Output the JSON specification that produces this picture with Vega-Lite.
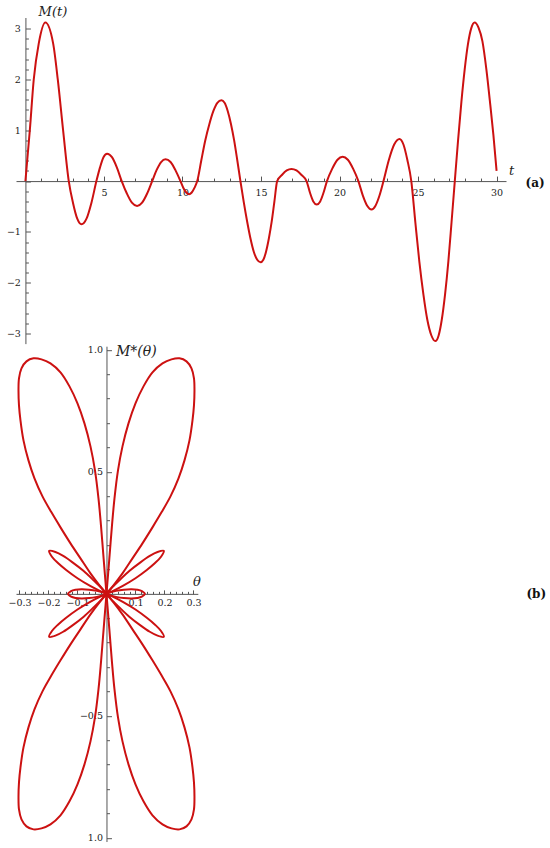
{
  "$schema": "https://vega.github.io/schema/vega-lite/v6.json",
  "background": "white",
  "padding": {"left": 6, "top": 5.5, "right": 0, "bottom": 0},
  "bounds": "flush",
  "spacing": 1.7,
  "config": {
    "view": {"stroke": null},
    "axis": {
      "grid": false,
      "domainColor": "#555555",
      "tickColor": "#555555",
      "domainWidth": 1,
      "tickWidth": 1,
      "labelColor": "#222222",
      "labelFont": "DejaVu Serif",
      "labelFontSize": 9.5,
      "labelFlush": false,
      "labelOverlap": false,
      "titleFont": "DejaVu Serif",
      "titleFontStyle": "italic",
      "titleFontWeight": "normal",
      "titleFontSize": 13,
      "titleColor": "#222222",
      "titleAngle": 0,
      "titleAlign": "center",
      "titleBaseline": "middle"
    }
  },
  "datasets": {
    "ts": [
      {"t": 0, "m": 0}, {"t": 0.28, "m": 1.0}, {"t": 0.53, "m": 2.0}, {"t": 0.85, "m": 2.71}, {"t": 1.27, "m": 3.12},
      {"t": 1.77, "m": 2.7}, {"t": 2.06, "m": 2.0}, {"t": 2.4, "m": 1.0}, {"t": 2.76, "m": 0},
      {"t": 3.03, "m": -0.43}, {"t": 3.3, "m": -0.74}, {"t": 3.57, "m": -0.85}, {"t": 3.89, "m": -0.74}, {"t": 4.2, "m": -0.43}, {"t": 4.52, "m": 0},
      {"t": 4.75, "m": 0.27}, {"t": 4.97, "m": 0.47}, {"t": 5.2, "m": 0.54}, {"t": 5.51, "m": 0.47}, {"t": 5.82, "m": 0.27}, {"t": 6.13, "m": 0},
      {"t": 6.46, "m": -0.245}, {"t": 6.78, "m": -0.425}, {"t": 7.11, "m": -0.49}, {"t": 7.43, "m": -0.425}, {"t": 7.75, "m": -0.245}, {"t": 8.07, "m": 0},
      {"t": 8.35, "m": 0.215}, {"t": 8.64, "m": 0.375}, {"t": 8.92, "m": 0.43}, {"t": 9.24, "m": 0.375}, {"t": 9.55, "m": 0.215}, {"t": 9.87, "m": 0},
      {"t": 10.05, "m": -0.13}, {"t": 10.24, "m": -0.225}, {"t": 10.42, "m": -0.26}, {"t": 10.59, "m": -0.225}, {"t": 10.77, "m": -0.13}, {"t": 10.94, "m": 0},
      {"t": 11.2, "m": 0.41}, {"t": 11.45, "m": 0.8}, {"t": 11.71, "m": 1.12}, {"t": 11.97, "m": 1.38}, {"t": 12.22, "m": 1.54}, {"t": 12.48, "m": 1.59},
      {"t": 12.68, "m": 1.54}, {"t": 12.88, "m": 1.38}, {"t": 13.09, "m": 1.12}, {"t": 13.29, "m": 0.8}, {"t": 13.49, "m": 0.41}, {"t": 13.69, "m": 0},
      {"t": 13.9, "m": -0.41}, {"t": 14.12, "m": -0.8}, {"t": 14.33, "m": -1.13}, {"t": 14.54, "m": -1.39}, {"t": 14.76, "m": -1.55}, {"t": 14.97, "m": -1.6},
      {"t": 15.15, "m": -1.55}, {"t": 15.32, "m": -1.39}, {"t": 15.5, "m": -1.13}, {"t": 15.68, "m": -0.8}, {"t": 15.85, "m": -0.41}, {"t": 16.03, "m": 0},
      {"t": 16.33, "m": 0.12}, {"t": 16.64, "m": 0.21}, {"t": 16.94, "m": 0.24}, {"t": 17.26, "m": 0.21}, {"t": 17.58, "m": 0.12}, {"t": 17.9, "m": 0},
      {"t": 18.12, "m": -0.23}, {"t": 18.33, "m": -0.4}, {"t": 18.55, "m": -0.46}, {"t": 18.77, "m": -0.4}, {"t": 18.98, "m": -0.23}, {"t": 19.2, "m": 0},
      {"t": 19.53, "m": 0.24}, {"t": 19.87, "m": 0.42}, {"t": 20.2, "m": 0.48}, {"t": 20.53, "m": 0.42}, {"t": 20.87, "m": 0.24}, {"t": 21.2, "m": 0},
      {"t": 21.48, "m": -0.28}, {"t": 21.76, "m": -0.485}, {"t": 22.04, "m": -0.56}, {"t": 22.29, "m": -0.485}, {"t": 22.55, "m": -0.28}, {"t": 22.8, "m": 0},
      {"t": 23.14, "m": 0.415}, {"t": 23.48, "m": 0.72}, {"t": 23.82, "m": 0.83}, {"t": 24.07, "m": 0.72}, {"t": 24.32, "m": 0.415}, {"t": 24.57, "m": 0},
      {"t": 24.83, "m": -0.82}, {"t": 25.08, "m": -1.58}, {"t": 25.34, "m": -2.23}, {"t": 25.59, "m": -2.73}, {"t": 25.85, "m": -3.04}, {"t": 26.1, "m": -3.15},
      {"t": 26.31, "m": -3.04}, {"t": 26.51, "m": -2.73}, {"t": 26.72, "m": -2.23}, {"t": 26.93, "m": -1.58}, {"t": 27.13, "m": -0.82}, {"t": 27.34, "m": 0},
      {"t": 27.55, "m": 0.81}, {"t": 27.76, "m": 1.56}, {"t": 27.97, "m": 2.2}, {"t": 28.18, "m": 2.7}, {"t": 28.39, "m": 3.01}, {"t": 28.6, "m": 3.12},
      {"t": 28.85, "m": 3.02}, {"t": 29.1, "m": 2.75}, {"t": 29.35, "m": 2.2}, {"t": 29.6, "m": 1.5}, {"t": 29.8, "m": 0.9}, {"t": 30, "m": 0.2}
    ],
    "polar": [
      {"g": "b1", "i": 0, "x": 0, "y": 0}, {"g": "b1", "i": 1, "x": -0.0052, "y": 0.0758}, {"g": "b1", "i": 2, "x": -0.0121, "y": 0.1783},
      {"g": "b1", "i": 3, "x": -0.019, "y": 0.2807}, {"g": "b1", "i": 4, "x": -0.0276, "y": 0.3914}, {"g": "b1", "i": 5, "x": -0.0397, "y": 0.5061},
      {"g": "b1", "i": 6, "x": -0.0552, "y": 0.6045}, {"g": "b1", "i": 7, "x": -0.0759, "y": 0.6988}, {"g": "b1", "i": 8, "x": -0.1, "y": 0.7807},
      {"g": "b1", "i": 9, "x": -0.1276, "y": 0.8504}, {"g": "b1", "i": 10, "x": -0.1586, "y": 0.9078}, {"g": "b1", "i": 11, "x": -0.1931, "y": 0.9447},
      {"g": "b1", "i": 12, "x": -0.2241, "y": 0.9611}, {"g": "b1", "i": 13, "x": -0.2517, "y": 0.9652}, {"g": "b1", "i": 14, "x": -0.2759, "y": 0.9529},
      {"g": "b1", "i": 15, "x": -0.2931, "y": 0.9242}, {"g": "b1", "i": 16, "x": -0.3017, "y": 0.8832}, {"g": "b1", "i": 17, "x": -0.3034, "y": 0.834},
      {"g": "b1", "i": 18, "x": -0.3017, "y": 0.7725}, {"g": "b1", "i": 19, "x": -0.2966, "y": 0.7111}, {"g": "b1", "i": 20, "x": -0.2862, "y": 0.6291},
      {"g": "b1", "i": 21, "x": -0.269, "y": 0.5471}, {"g": "b1", "i": 22, "x": -0.2483, "y": 0.4734}, {"g": "b1", "i": 23, "x": -0.2207, "y": 0.3996},
      {"g": "b1", "i": 24, "x": -0.1897, "y": 0.334}, {"g": "b1", "i": 25, "x": -0.1586, "y": 0.2725}, {"g": "b1", "i": 26, "x": -0.1241, "y": 0.207},
      {"g": "b1", "i": 27, "x": -0.0897, "y": 0.1455}, {"g": "b1", "i": 28, "x": -0.0552, "y": 0.084}, {"g": "b1", "i": 29, "x": -0.0241, "y": 0.0348},
      {"g": "b1", "i": 30, "x": 0, "y": 0},

      {"g": "b2", "i": 0, "x": 0, "y": 0}, {"g": "b2", "i": 1, "x": 0.0052, "y": 0.0758}, {"g": "b2", "i": 2, "x": 0.0121, "y": 0.1783},
      {"g": "b2", "i": 3, "x": 0.019, "y": 0.2807}, {"g": "b2", "i": 4, "x": 0.0276, "y": 0.3914}, {"g": "b2", "i": 5, "x": 0.0397, "y": 0.5061},
      {"g": "b2", "i": 6, "x": 0.0552, "y": 0.6045}, {"g": "b2", "i": 7, "x": 0.0759, "y": 0.6988}, {"g": "b2", "i": 8, "x": 0.1, "y": 0.7807},
      {"g": "b2", "i": 9, "x": 0.1276, "y": 0.8504}, {"g": "b2", "i": 10, "x": 0.1586, "y": 0.9078}, {"g": "b2", "i": 11, "x": 0.1931, "y": 0.9447},
      {"g": "b2", "i": 12, "x": 0.2241, "y": 0.9611}, {"g": "b2", "i": 13, "x": 0.2517, "y": 0.9652}, {"g": "b2", "i": 14, "x": 0.2759, "y": 0.9529},
      {"g": "b2", "i": 15, "x": 0.2931, "y": 0.9242}, {"g": "b2", "i": 16, "x": 0.3017, "y": 0.8832}, {"g": "b2", "i": 17, "x": 0.3034, "y": 0.834},
      {"g": "b2", "i": 18, "x": 0.3017, "y": 0.7725}, {"g": "b2", "i": 19, "x": 0.2966, "y": 0.7111}, {"g": "b2", "i": 20, "x": 0.2862, "y": 0.6291},
      {"g": "b2", "i": 21, "x": 0.269, "y": 0.5471}, {"g": "b2", "i": 22, "x": 0.2483, "y": 0.4734}, {"g": "b2", "i": 23, "x": 0.2207, "y": 0.3996},
      {"g": "b2", "i": 24, "x": 0.1897, "y": 0.334}, {"g": "b2", "i": 25, "x": 0.1586, "y": 0.2725}, {"g": "b2", "i": 26, "x": 0.1241, "y": 0.207},
      {"g": "b2", "i": 27, "x": 0.0897, "y": 0.1455}, {"g": "b2", "i": 28, "x": 0.0552, "y": 0.084}, {"g": "b2", "i": 29, "x": 0.0241, "y": 0.0348},
      {"g": "b2", "i": 30, "x": 0, "y": 0},

      {"g": "b3", "i": 0, "x": 0, "y": 0}, {"g": "b3", "i": 1, "x": -0.0052, "y": -0.0758}, {"g": "b3", "i": 2, "x": -0.0121, "y": -0.1783},
      {"g": "b3", "i": 3, "x": -0.019, "y": -0.2807}, {"g": "b3", "i": 4, "x": -0.0276, "y": -0.3914}, {"g": "b3", "i": 5, "x": -0.0397, "y": -0.5061},
      {"g": "b3", "i": 6, "x": -0.0552, "y": -0.6045}, {"g": "b3", "i": 7, "x": -0.0759, "y": -0.6988}, {"g": "b3", "i": 8, "x": -0.1, "y": -0.7807},
      {"g": "b3", "i": 9, "x": -0.1276, "y": -0.8504}, {"g": "b3", "i": 10, "x": -0.1586, "y": -0.9078}, {"g": "b3", "i": 11, "x": -0.1931, "y": -0.9447},
      {"g": "b3", "i": 12, "x": -0.2241, "y": -0.9611}, {"g": "b3", "i": 13, "x": -0.2517, "y": -0.9652}, {"g": "b3", "i": 14, "x": -0.2759, "y": -0.9529},
      {"g": "b3", "i": 15, "x": -0.2931, "y": -0.9242}, {"g": "b3", "i": 16, "x": -0.3017, "y": -0.8832}, {"g": "b3", "i": 17, "x": -0.3034, "y": -0.834},
      {"g": "b3", "i": 18, "x": -0.3017, "y": -0.7725}, {"g": "b3", "i": 19, "x": -0.2966, "y": -0.7111}, {"g": "b3", "i": 20, "x": -0.2862, "y": -0.6291},
      {"g": "b3", "i": 21, "x": -0.269, "y": -0.5471}, {"g": "b3", "i": 22, "x": -0.2483, "y": -0.4734}, {"g": "b3", "i": 23, "x": -0.2207, "y": -0.3996},
      {"g": "b3", "i": 24, "x": -0.1897, "y": -0.334}, {"g": "b3", "i": 25, "x": -0.1586, "y": -0.2725}, {"g": "b3", "i": 26, "x": -0.1241, "y": -0.207},
      {"g": "b3", "i": 27, "x": -0.0897, "y": -0.1455}, {"g": "b3", "i": 28, "x": -0.0552, "y": -0.084}, {"g": "b3", "i": 29, "x": -0.0241, "y": -0.0348},
      {"g": "b3", "i": 30, "x": 0, "y": 0},

      {"g": "b4", "i": 0, "x": 0, "y": 0}, {"g": "b4", "i": 1, "x": 0.0052, "y": -0.0758}, {"g": "b4", "i": 2, "x": 0.0121, "y": -0.1783},
      {"g": "b4", "i": 3, "x": 0.019, "y": -0.2807}, {"g": "b4", "i": 4, "x": 0.0276, "y": -0.3914}, {"g": "b4", "i": 5, "x": 0.0397, "y": -0.5061},
      {"g": "b4", "i": 6, "x": 0.0552, "y": -0.6045}, {"g": "b4", "i": 7, "x": 0.0759, "y": -0.6988}, {"g": "b4", "i": 8, "x": 0.1, "y": -0.7807},
      {"g": "b4", "i": 9, "x": 0.1276, "y": -0.8504}, {"g": "b4", "i": 10, "x": 0.1586, "y": -0.9078}, {"g": "b4", "i": 11, "x": 0.1931, "y": -0.9447},
      {"g": "b4", "i": 12, "x": 0.2241, "y": -0.9611}, {"g": "b4", "i": 13, "x": 0.2517, "y": -0.9652}, {"g": "b4", "i": 14, "x": 0.2759, "y": -0.9529},
      {"g": "b4", "i": 15, "x": 0.2931, "y": -0.9242}, {"g": "b4", "i": 16, "x": 0.3017, "y": -0.8832}, {"g": "b4", "i": 17, "x": 0.3034, "y": -0.834},
      {"g": "b4", "i": 18, "x": 0.3017, "y": -0.7725}, {"g": "b4", "i": 19, "x": 0.2966, "y": -0.7111}, {"g": "b4", "i": 20, "x": 0.2862, "y": -0.6291},
      {"g": "b4", "i": 21, "x": 0.269, "y": -0.5471}, {"g": "b4", "i": 22, "x": 0.2483, "y": -0.4734}, {"g": "b4", "i": 23, "x": 0.2207, "y": -0.3996},
      {"g": "b4", "i": 24, "x": 0.1897, "y": -0.334}, {"g": "b4", "i": 25, "x": 0.1586, "y": -0.2725}, {"g": "b4", "i": 26, "x": 0.1241, "y": -0.207},
      {"g": "b4", "i": 27, "x": 0.0897, "y": -0.1455}, {"g": "b4", "i": 28, "x": 0.0552, "y": -0.084}, {"g": "b4", "i": 29, "x": 0.0241, "y": -0.0348},
      {"g": "b4", "i": 30, "x": 0, "y": 0},

      {"g": "m1", "i": 0, "x": 0, "y": 0}, {"g": "m1", "i": 1, "x": -0.0165, "y": 0.0228}, {"g": "m1", "i": 2, "x": -0.0427, "y": 0.0535},
      {"g": "m1", "i": 3, "x": -0.0796, "y": 0.0946}, {"g": "m1", "i": 4, "x": -0.1183, "y": 0.1302}, {"g": "m1", "i": 5, "x": -0.1493, "y": 0.1553},
      {"g": "m1", "i": 6, "x": -0.1761, "y": 0.1713}, {"g": "m1", "i": 7, "x": -0.1979, "y": 0.1758}, {"g": "m1", "i": 8, "x": -0.1881, "y": 0.1523},
      {"g": "m1", "i": 9, "x": -0.1674, "y": 0.1263}, {"g": "m1", "i": 10, "x": -0.139, "y": 0.0979}, {"g": "m1", "i": 11, "x": -0.1, "y": 0.0641},
      {"g": "m1", "i": 12, "x": -0.0563, "y": 0.0327}, {"g": "m1", "i": 13, "x": -0.0231, "y": 0.0123}, {"g": "m1", "i": 14, "x": 0, "y": 0},

      {"g": "m2", "i": 0, "x": 0, "y": 0}, {"g": "m2", "i": 1, "x": 0.0165, "y": 0.0228}, {"g": "m2", "i": 2, "x": 0.0427, "y": 0.0535},
      {"g": "m2", "i": 3, "x": 0.0796, "y": 0.0946}, {"g": "m2", "i": 4, "x": 0.1183, "y": 0.1302}, {"g": "m2", "i": 5, "x": 0.1493, "y": 0.1553},
      {"g": "m2", "i": 6, "x": 0.1761, "y": 0.1713}, {"g": "m2", "i": 7, "x": 0.1979, "y": 0.1758}, {"g": "m2", "i": 8, "x": 0.1881, "y": 0.1523},
      {"g": "m2", "i": 9, "x": 0.1674, "y": 0.1263}, {"g": "m2", "i": 10, "x": 0.139, "y": 0.0979}, {"g": "m2", "i": 11, "x": 0.1, "y": 0.0641},
      {"g": "m2", "i": 12, "x": 0.0563, "y": 0.0327}, {"g": "m2", "i": 13, "x": 0.0231, "y": 0.0123}, {"g": "m2", "i": 14, "x": 0, "y": 0},

      {"g": "m3", "i": 0, "x": 0, "y": 0}, {"g": "m3", "i": 1, "x": -0.0165, "y": -0.0228}, {"g": "m3", "i": 2, "x": -0.0427, "y": -0.0535},
      {"g": "m3", "i": 3, "x": -0.0796, "y": -0.0946}, {"g": "m3", "i": 4, "x": -0.1183, "y": -0.1302}, {"g": "m3", "i": 5, "x": -0.1493, "y": -0.1553},
      {"g": "m3", "i": 6, "x": -0.1761, "y": -0.1713}, {"g": "m3", "i": 7, "x": -0.1979, "y": -0.1758}, {"g": "m3", "i": 8, "x": -0.1881, "y": -0.1523},
      {"g": "m3", "i": 9, "x": -0.1674, "y": -0.1263}, {"g": "m3", "i": 10, "x": -0.139, "y": -0.0979}, {"g": "m3", "i": 11, "x": -0.1, "y": -0.0641},
      {"g": "m3", "i": 12, "x": -0.0563, "y": -0.0327}, {"g": "m3", "i": 13, "x": -0.0231, "y": -0.0123}, {"g": "m3", "i": 14, "x": 0, "y": 0},

      {"g": "m4", "i": 0, "x": 0, "y": 0}, {"g": "m4", "i": 1, "x": 0.0165, "y": -0.0228}, {"g": "m4", "i": 2, "x": 0.0427, "y": -0.0535},
      {"g": "m4", "i": 3, "x": 0.0796, "y": -0.0946}, {"g": "m4", "i": 4, "x": 0.1183, "y": -0.1302}, {"g": "m4", "i": 5, "x": 0.1493, "y": -0.1553},
      {"g": "m4", "i": 6, "x": 0.1761, "y": -0.1713}, {"g": "m4", "i": 7, "x": 0.1979, "y": -0.1758}, {"g": "m4", "i": 8, "x": 0.1881, "y": -0.1523},
      {"g": "m4", "i": 9, "x": 0.1674, "y": -0.1263}, {"g": "m4", "i": 10, "x": 0.139, "y": -0.0979}, {"g": "m4", "i": 11, "x": 0.1, "y": -0.0641},
      {"g": "m4", "i": 12, "x": 0.0563, "y": -0.0327}, {"g": "m4", "i": 13, "x": 0.0231, "y": -0.0123}, {"g": "m4", "i": 14, "x": 0, "y": 0},

      {"g": "s1", "i": 0, "x": 0, "y": 0}, {"g": "s1", "i": 1, "x": -0.0133, "y": 0.0061}, {"g": "s1", "i": 2, "x": -0.0332, "y": 0.0123},
      {"g": "s1", "i": 3, "x": -0.0597, "y": 0.0172}, {"g": "s1", "i": 4, "x": -0.0863, "y": 0.0189}, {"g": "s1", "i": 5, "x": -0.1062, "y": 0.0168},
      {"g": "s1", "i": 6, "x": -0.1221, "y": 0.0115}, {"g": "s1", "i": 7, "x": -0.1327, "y": 0}, {"g": "s1", "i": 8, "x": -0.1221, "y": -0.0115},
      {"g": "s1", "i": 9, "x": -0.1062, "y": -0.0168}, {"g": "s1", "i": 10, "x": -0.0863, "y": -0.0189}, {"g": "s1", "i": 11, "x": -0.0597, "y": -0.0172},
      {"g": "s1", "i": 12, "x": -0.0332, "y": -0.0123}, {"g": "s1", "i": 13, "x": -0.0133, "y": -0.0061}, {"g": "s1", "i": 14, "x": 0, "y": 0},

      {"g": "s2", "i": 0, "x": 0, "y": 0}, {"g": "s2", "i": 1, "x": 0.0133, "y": 0.0061}, {"g": "s2", "i": 2, "x": 0.0332, "y": 0.0123},
      {"g": "s2", "i": 3, "x": 0.0597, "y": 0.0172}, {"g": "s2", "i": 4, "x": 0.0863, "y": 0.0189}, {"g": "s2", "i": 5, "x": 0.1062, "y": 0.0168},
      {"g": "s2", "i": 6, "x": 0.1221, "y": 0.0115}, {"g": "s2", "i": 7, "x": 0.1327, "y": 0}, {"g": "s2", "i": 8, "x": 0.1221, "y": -0.0115},
      {"g": "s2", "i": 9, "x": 0.1062, "y": -0.0168}, {"g": "s2", "i": 10, "x": 0.0863, "y": -0.0189}, {"g": "s2", "i": 11, "x": 0.0597, "y": -0.0172},
      {"g": "s2", "i": 12, "x": 0.0332, "y": -0.0123}, {"g": "s2", "i": 13, "x": 0.0133, "y": -0.0061}, {"g": "s2", "i": 14, "x": 0, "y": 0}
    ]
  },
  "vconcat": [
    {
      "width": 490,
      "height": 326.14,
      "layer": [
        {
          "data": {"name": "ts"},
          "mark": {"type": "line", "color": "#cc1111", "strokeWidth": 2, "interpolate": "monotone"},
          "encoding": {
            "x": {
              "field": "t", "type": "quantitative",
              "scale": {"domain": [-0.6, 30.6], "nice": false, "zero": false},
              "axis": {
                "orient": "bottom", "offset": -162.56, "tickCount": 500,
                "labelOverlap": false, "labelFlush": false, "labelBound": false,
                "values": [0,1,2,3,4,5,6,7,8,9,10,11,12,13,14,15,16,17,18,19,20,21,22,23,24,25,26,27,28,29,30],
                "labelExpr": "datum.value % 5 === 0 && datum.value !== 0 ? format(datum.value, 'd') : ''",
                "tickSize": {"condition": {"test": "datum.value % 5 === 0", "value": -5}, "value": -3},
                "labelPadding": 11,
                "title": "t", "titleX": 495, "titleY": -11
              }
            },
            "y": {
              "field": "m", "type": "quantitative",
              "scale": {"domain": [-3.2, 3.22], "nice": false, "zero": false},
              "axis": {
                "orient": "left", "offset": -9.42, "tickCount": 500,
                "labelOverlap": false, "labelFlush": false, "labelBound": false,
                "values": [-3,-2.8,-2.6,-2.4,-2.2,-2,-1.8,-1.6,-1.4,-1.2,-1,-0.8,-0.6,-0.4,-0.2,0,0.2,0.4,0.6,0.8,1,1.2,1.4,1.6,1.8,2,2.2,2.4,2.6,2.8,3],
                "labelExpr": "abs(datum.value - round(datum.value)) < 0.001 && datum.value != 0 ? format(round(datum.value), 'd') : ''",
                "tickSize": {"condition": {"test": "abs(datum.value - round(datum.value)) < 0.001", "value": -5}, "value": -3},
                "labelPadding": 10,
                "title": "M(t)", "titleX": 27, "titleY": -6
              }
            }
          }
        },
        {
          "data": {"values": [{}]},
          "mark": {"type": "text", "font": "DejaVu Serif", "fontWeight": "bold", "fontSize": 12, "color": "#111111", "clip": false, "align": "center", "baseline": "middle"},
          "encoding": {
            "x": {"datum": 32.45, "type": "quantitative"},
            "y": {"datum": -0.03, "type": "quantitative"},
            "text": {"value": "(a)"}
          }
        }
      ]
    },
    {
      "width": 181.83,
      "height": 495.32,
      "layer": [
        {
          "data": {"name": "polar"},
          "mark": {"type": "line", "color": "#cc1111", "strokeWidth": 2, "interpolate": "catmull-rom"},
          "encoding": {
            "x": {
              "field": "x", "type": "quantitative",
              "scale": {"domain": [-0.312, 0.315], "nice": false, "zero": false},
              "axis": {
                "orient": "bottom", "offset": -247.66, "tickCount": 500,
                "labelOverlap": false, "labelFlush": false, "labelBound": false,
                "values": [-0.3,-0.28,-0.26,-0.24,-0.22,-0.2,-0.18,-0.16,-0.14,-0.12,-0.1,-0.08,-0.06,-0.04,-0.02,0,0.02,0.04,0.06,0.08,0.1,0.12,0.14,0.16,0.18,0.2,0.22,0.24,0.26,0.28,0.3],
                "labelExpr": "abs(datum.value*10 - round(datum.value*10)) < 0.001 && abs(datum.value) > 0.001 ? format(datum.value, '.1f') : ''",
                "tickSize": {"condition": {"test": "abs(datum.value*10 - round(datum.value*10)) < 0.001", "value": -4}, "value": -2.5},
                "labelPadding": 7.5,
                "title": "θ", "titleX": 180.4, "titleY": -12
              }
            },
            "y": {
              "field": "y", "type": "quantitative",
              "scale": {"domain": [-1.015, 1.015], "nice": false, "zero": false},
              "axis": {
                "orient": "left", "offset": -90.48, "tickCount": 500,
                "labelOverlap": false, "labelFlush": false, "labelBound": false,
                "values": [-1,-0.9,-0.8,-0.7,-0.6,-0.5,-0.4,-0.3,-0.2,-0.1,0,0.1,0.2,0.3,0.4,0.5,0.6,0.7,0.8,0.9,1],
                "labelExpr": "abs(abs(datum.value) - 1) < 0.001 ? '1.0' : abs(datum.value - 0.5) < 0.001 ? '0.5' : abs(datum.value + 0.5) < 0.001 ? '−0.5' : ''",
                "tickSize": {"condition": {"test": "abs(datum.value*2 - round(datum.value*2)) < 0.001", "value": -5}, "value": -3},
                "labelPadding": 9,
                "title": "M*(θ)", "titleX": 9, "titleY": 5.2, "titleAlign": "left", "titleFontSize": 14
              }
            },
            "detail": {"field": "g", "type": "nominal"},
            "order": {"field": "i", "type": "quantitative"}
          }
        },
        {
          "data": {"values": [{}]},
          "mark": {"type": "text", "font": "DejaVu Serif", "fontWeight": "bold", "fontSize": 12, "color": "#111111", "clip": false, "align": "center", "baseline": "middle"},
          "encoding": {
            "x": {"datum": 1.482, "type": "quantitative"},
            "y": {"datum": 0.0, "type": "quantitative"},
            "text": {"value": "(b)"}
          }
        }
      ]
    }
  ]
}
